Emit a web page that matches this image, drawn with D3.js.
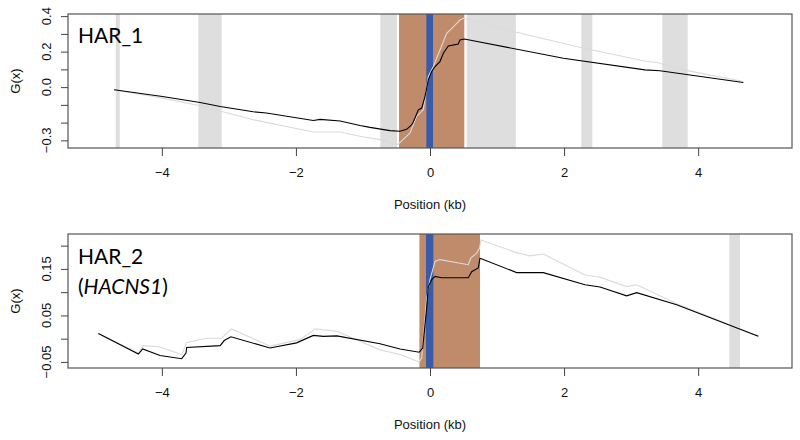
<!DOCTYPE html>
<html><head><meta charset="utf-8">
<script src="https://cdn.jsdelivr.net/npm/d3@7"></script>
<style>body{margin:0;background:#fff}svg{display:block}</style>
</head><body>
<svg id="c" width="800" height="440"></svg>
<script>
// ---------- data ----------
const xTicks = [-4, -2, 0, 2, 4];
const xTickLabels = ["\u22124", "\u22122", "0", "2", "4"];

const topYTicks = [-0.3, -0.2, -0.1, 0.0, 0.1, 0.2, 0.3, 0.4];
const topYLabels = ["\u22120.3", "", "", "0.0", "", "0.2", "", "0.4"];
const botYTicks = [-0.05, 0.0, 0.05, 0.10, 0.15, 0.20];
const botYLabels = ["\u22120.05", "", "0.05", "", "0.15", ""];

const topGrayStart = [-4.688, -3.456, -0.741, 0.547, 2.257, 3.465];
const topGrayEnd   = [-4.628, -3.108, -0.492, 1.280, 2.421, 3.844];
const topBrown = [-0.462, 0.512];
const topBlue  = [-0.055, 0.045];

const botGrayStart = [4.465];
const botGrayEnd   = [4.624];
const botBrown = [-0.158, 0.746];
const botBlue  = [-0.060, 0.050];

const topBlackX = [-4.714, -3.99, -3.43, -3.13, -2.636, -2.44, -1.74, -1.64, -1.34, -1.044, -0.895, -0.597, -0.447, -0.35, -0.298, -0.26, -0.224, -0.174, -0.124, -0.075, -0.025, 0.025, 0.075, 0.149, 0.199, 0.273, 0.422, 0.447, 0.512, 1.99, 3.207, 3.43, 4.674];
const topBlackY = [-0.015, -0.053, -0.087, -0.109, -0.139, -0.146, -0.188, -0.182, -0.191, -0.216, -0.227, -0.245, -0.249, -0.238, -0.221, -0.205, -0.174, -0.128, -0.118, -0.053, 0.041, 0.088, 0.116, 0.144, 0.191, 0.232, 0.243, 0.266, 0.271, 0.163, 0.097, 0.092, 0.026];

const topGrayX = [-4.714, -3.99, -3.43, -2.636, -1.74, -1.34, -1.044, -0.746, -0.49, -0.457, -0.298, -0.199, -0.1, -0.025, 0.05, 0.149, 0.249, 0.348, 0.447, 0.497, 1.293, 2.263, 3.233, 3.38, 3.78, 4.674];
const topGrayY = [-0.015, -0.062, -0.105, -0.184, -0.253, -0.253, -0.277, -0.296, -0.324, -0.315, -0.258, -0.165, -0.128, 0.06, 0.116, 0.209, 0.303, 0.34, 0.378, 0.388, 0.309, 0.222, 0.144, 0.14, 0.097, 0.032];

const botBlackX = [-4.947, -4.35, -4.286, -4.027, -3.704, -3.64, -3.63, -3.13, -3.07, -2.97, -2.387, -1.99, -1.74, -1.59, -1.39, -0.746, -0.447, -0.16, -0.109, -0.05, -0.025, 0.025, 0.075, 0.174, 0.572, 0.622, 0.72, 0.746, 1.293, 1.69, 2.312, 2.536, 2.934, 3.083, 3.68, 4.898];
const botBlackY = [0.011, -0.033, -0.022, -0.036, -0.043, -0.031, -0.019, -0.015, -0.004, 0.004, -0.020, -0.009, 0.007, 0.005, 0.006, -0.011, -0.022, -0.029, -0.020, 0.066, 0.112, 0.127, 0.134, 0.131, 0.131, 0.144, 0.152, 0.173, 0.142, 0.142, 0.116, 0.111, 0.092, 0.099, 0.073, 0.005];

const botGrayX = [-4.947, -4.35, -4.28, -4.03, -3.70, -3.63, -3.33, -3.11, -2.96, -2.387, -1.94, -1.715, -1.39, -0.746, -0.447, -0.16, -0.124, -0.05, 0.0, 0.075, 0.149, 0.572, 0.607, 0.696, 0.74, 0.76, 1.293, 1.49, 1.69, 2.312, 2.536, 2.934, 3.083, 3.68, 4.54, 4.898];
const botGrayY = [0.011, -0.031, -0.015, -0.018, -0.034, -0.008, 0.001, 0.001, 0.021, -0.016, -0.002, 0.021, 0.016, -0.024, -0.034, -0.050, -0.041, 0.087, 0.127, 0.166, 0.170, 0.159, 0.173, 0.184, 0.195, 0.212, 0.185, 0.178, 0.182, 0.137, 0.132, 0.112, 0.116, 0.075, 0.026, 0.005];

// ---------- drawing ----------
const svg = d3.select("#c");
const axisFont = "'Liberation Sans', Arial, sans-serif";
const titleFont = "Lato, 'Open Sans', sans-serif";
const COL_GRAY = "#dedede", COL_BROWN = "#c08b6a", COL_BLUE = "#3a5ca8", COL_LINE2 = "#dadada";

const x = d3.scaleLinear().domain([-5.4, 5.4]).range([68, 792]);

function panel(opt) {
  const y = d3.scaleLinear().domain(opt.yDomain).range([opt.bottom, opt.top]);
  const g = svg.append("g");
  const h = opt.bottom - opt.top;
  g.selectAll("rect.gr").data(opt.grayStart).enter().append("rect")
    .attr("x", (d) => x(d)).attr("y", opt.top)
    .attr("width", (d, i) => x(opt.grayEnd[i]) - x(d)).attr("height", h)
    .attr("fill", COL_GRAY);
  g.append("rect").attr("x", x(opt.brown[0])).attr("y", opt.top)
    .attr("width", x(opt.brown[1]) - x(opt.brown[0])).attr("height", h).attr("fill", COL_BROWN);
  g.append("rect").attr("x", x(opt.blue[0])).attr("y", opt.top)
    .attr("width", x(opt.blue[1]) - x(opt.blue[0])).attr("height", h).attr("fill", COL_BLUE);

  const line = d3.line().x((d) => x(d[0])).y((d) => y(d[1]));
  const grayPts = opt.grayX.map((v, i) => [v, opt.grayY[i]]);
  const blackPts = opt.blackX.map((v, i) => [v, opt.blackY[i]]);
  g.append("path").attr("d", line(grayPts)).attr("fill", "none").attr("stroke", COL_LINE2).attr("stroke-width", 1.1);
  g.append("path").attr("d", line(blackPts)).attr("fill", "none").attr("stroke", "#000").attr("stroke-width", 1.1);

  g.append("rect").attr("x", 68).attr("y", opt.top).attr("width", 724).attr("height", h)
    .attr("fill", "none").attr("stroke", "#555").attr("stroke-width", 1.2);

  const xa = g.append("g").attr("transform", `translate(0,${opt.bottom})`)
    .call(d3.axisBottom(x).tickValues(xTicks).tickSize(8).tickPadding(12)
      .tickFormat((d, i) => xTickLabels[i]));
  xa.select(".domain").remove();
  xa.selectAll("line").attr("stroke", "#444");
  xa.selectAll("text").attr("font-family", axisFont).attr("font-size", 13).attr("fill", "#111");

  const ya = g.append("g").attr("transform", "translate(68,0)")
    .call(d3.axisLeft(y).tickValues(opt.yTicks).tickSize(7).tickFormat(() => ""));
  ya.select(".domain").remove();
  ya.selectAll("line").attr("stroke", "#444");
  g.selectAll("text.yl").data(opt.yTicks).enter().append("text")
    .attr("transform", (d) => `translate(51,${y(d)}) rotate(-90)`)
    .attr("text-anchor", "middle")
    .attr("font-family", axisFont).attr("font-size", 13).attr("fill", "#111")
    .text((d, i) => opt.yLabels[i]);

  g.append("text").attr("transform", `translate(20,${(opt.top + opt.bottom) / 2}) rotate(-90)`)
    .attr("text-anchor", "middle").attr("font-family", axisFont).attr("font-size", 13).attr("fill", "#111")
    .text("G(x)");
  g.append("text").attr("x", 430).attr("y", opt.bottom + 61)
    .attr("text-anchor", "middle").attr("font-family", axisFont).attr("font-size", 13).attr("fill", "#111")
    .text("Position (kb)");
  return g;
}

const gTop = panel({
  top: 14, bottom: 148, yDomain: [-0.343, 0.412],
  grayStart: topGrayStart, grayEnd: topGrayEnd, brown: topBrown, blue: topBlue,
  blackX: topBlackX, blackY: topBlackY, grayX: topGrayX, grayY: topGrayY,
  yTicks: topYTicks, yLabels: topYLabels
});
gTop.append("text").attr("x", 78).attr("y", 43).attr("font-family", titleFont)
  .attr("font-size", 21).attr("fill", "#000").text("HAR_1");

const gBot = panel({
  top: 234, bottom: 368, yDomain: [-0.063, 0.225],
  grayStart: botGrayStart, grayEnd: botGrayEnd, brown: botBrown, blue: botBlue,
  blackX: botBlackX, blackY: botBlackY, grayX: botGrayX, grayY: botGrayY,
  yTicks: botYTicks, yLabels: botYLabels
});
gBot.append("text").attr("x", 78).attr("y", 264).attr("font-family", titleFont)
  .attr("font-size", 21).attr("fill", "#000").text("HAR_2");
const t2 = gBot.append("text").attr("x", 78).attr("y", 294).attr("font-family", titleFont)
  .attr("font-size", 21).attr("fill", "#000");
t2.append("tspan").text("(");
t2.append("tspan").attr("font-style", "italic").text("HACNS1");
t2.append("tspan").text(")");
</script>
</body></html>
